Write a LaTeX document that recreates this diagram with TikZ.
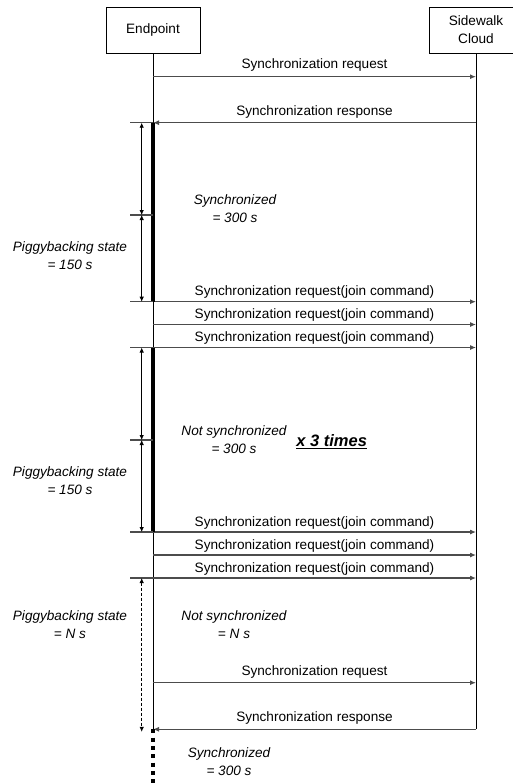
\documentclass[tikz,border=0pt]{standalone}
\usepackage{fontspec}
\setmainfont{Liberation Sans}
\usetikzlibrary{arrows.meta}

\begin{document}
\begin{tikzpicture}[x=1pt, y=-1pt,
    % --- STYLES ---
    base/.style={align=center, font=\fontsize{13.6}{18}\selectfont},
    actor/.style={base, draw, line width=0.9pt, minimum width=94pt, minimum height=46pt, inner sep=0pt},
    note/.style={base, font=\fontsize{13.6}{18}\selectfont\itshape},
    lifeline/.style={line width=0.9pt},
    active/.style={line width=4pt},
    asleep/.style={line width=4pt, dash pattern=on 4pt off 4.3pt},
    msg/.style={-{Latex[length=6pt, width=5pt]}, line width=1.1pt, draw=black!70},
    tick/.style={line width=1.1pt, draw=black!70},
    span/.style={{Latex[length=5pt, width=4.5pt]}-{Latex[length=5pt, width=4.5pt]}, line width=0.8pt},
    dotted span/.style={span, line width=0.9pt, dash pattern=on 3pt off 2pt},
    above msg/.style={base, midway, above=#1, inner sep=1pt}
]
    \clip (0,0) rectangle (513,784);
    \useasboundingbox (0,0) rectangle (513,784);

    % ==========================================
    % PARTICIPANTS
    % ==========================================
    \node[actor] (endpoint) at (153,30) {Endpoint};
    \node[actor] (cloud) at (476,30) {Sidewalk\\Cloud};

    \coordinate (endpointEnd) at (endpoint |- 0,729.3);
    \coordinate (cloudEnd) at (cloud |- 0,729.3);
    \draw[lifeline] (endpoint.south) -- (endpointEnd);
    \draw[lifeline] (cloud.south) -- (cloudEnd);

    % ==========================================
    % FIRST SYNCHRONIZATION
    % ==========================================
    \coordinate (reqE) at (endpoint |- 0,76.7);
    \coordinate (reqC) at (cloud |- 0,76.7);
    \coordinate (resE) at (endpoint |- 0,122.7);
    \coordinate (resC) at (cloud |- 0,122.7);
    \draw[msg] (reqE) -- node[above msg=3.5pt] {Synchronization request} (reqC);
    \draw[msg] (resC) -- node[above msg=3pt] {Synchronization response} (resE);

    % ==========================================
    % JOIN REQUESTS
    % ==========================================
    \foreach \y [count=\i] in {301.7,324.5,347.5,532,555,578}{
        \coordinate (joinE\i) at (endpoint |- 0,\y);
        \coordinate (joinC\i) at (cloud |- 0,\y);
        \draw[msg] (joinE\i) -- node[above msg=1.5pt] {Synchronization request(join command)} (joinC\i);
    }

    % ==========================================
    % STATE BARS AND DURATIONS
    % ==========================================
    \coordinate (midA) at (endpoint |- 0,215);
    \coordinate (midB) at (endpoint |- 0,440);
    \draw[active] (resE) -- (joinE1);
    \draw[active] (joinE3) -- (joinE4);

    % left ticks
    \foreach \p in {resE, midA, joinE1, joinE3, midB, joinE4, joinE6}{
        \draw[tick] (\p) -- ++(-23,0);
    }

    \draw[span] ([xshift=-11.3pt]resE) -- ([xshift=-11.3pt]midA);
    \draw[span] ([xshift=-11.3pt]midA) -- ([xshift=-11.3pt]joinE1);
    \draw[span] ([xshift=-11.3pt]joinE3) -- ([xshift=-11.3pt]midB);
    \draw[span] ([xshift=-11.3pt]midB) -- ([xshift=-11.3pt]joinE4);
    \draw[dotted span] ([xshift=-11.3pt]joinE6) -- ([xshift=-11.3pt, yshift=-2.6pt]endpointEnd);

    \node[note] (pigA) at (70,256) {Piggybacking state\\= 150 s};
    \node[note] (pigB) at (70,481) {Piggybacking state\\= 150 s};
    \node[note] (pigC) at (70,625) {Piggybacking state\\= N s};

    \node[note] (syncA) at (235,209) {Synchronized\\= 300 s};
    \node[note] (nosyncB) at (234,440) {Not synchronized\\= 300 s};
    \node[base, font=\fontsize{16.5}{18}\selectfont\bfseries\itshape] (times) at (331.7,441.7) {\underline{x 3 times}};
    \node[note] (nosyncC) at (234,625) {Not synchronized\\= N s};

    % ==========================================
    % FINAL SYNCHRONIZATION
    % ==========================================
    \coordinate (lastReqE) at (endpoint |- 0,682.7);
    \coordinate (lastReqC) at (cloud |- 0,682.7);
    \draw[msg] (lastReqE) -- node[above msg=3pt] {Synchronization request} (lastReqC);
    \draw[msg] (cloudEnd) -- node[above msg=3pt] {Synchronization response} (endpointEnd);

    \coordinate (bottom) at (endpoint |- 0,790);
    \draw[asleep] (endpointEnd) -- (bottom);
    \node[note] (syncD) at (229,762) {Synchronized\\= 300 s};

\end{tikzpicture}
\end{document}
